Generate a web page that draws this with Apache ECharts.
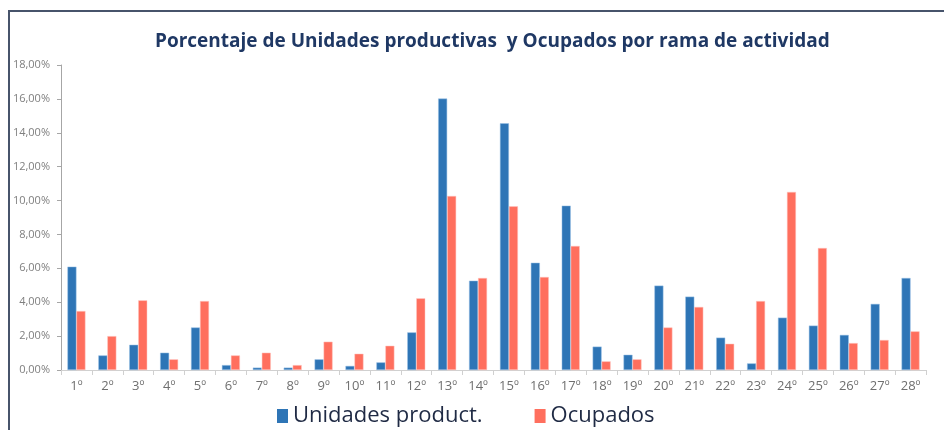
<!DOCTYPE html>
<html lang="es">
<head>
<meta charset="UTF-8">
<title>Porcentaje de Unidades productivas y Ocupados</title>
<style>
  html, body { margin: 0; padding: 0; background: #fff; }
  #chart { width: 944px; height: 430px; }
</style>
</head>
<body>
<div id="chart"></div>
<script src="https://cdn.jsdelivr.net/npm/echarts@6/dist/echarts.min.js"></script>
<script>
// ramas de actividad
var ramas = ['1º','2º','3º','4º','5º','6º','7º','8º','9º','10º','11º','12º','13º','14º',
             '15º','16º','17º','18º','19º','20º','21º','22º','23º','24º','25º','26º','27º','28º'];

// porcentajes (%)
var unidades = [6.10, 0.86, 1.49, 1.02, 2.51, 0.29, 0.14, 0.14, 0.63, 0.24, 0.45, 2.22, 16.02, 5.27,
                14.56, 6.33, 9.70, 1.38, 0.90, 4.98, 4.33, 1.91, 0.39, 3.09, 2.62, 2.07, 3.90, 5.43];
var ocupados = [3.48, 2.00, 4.11, 0.63, 4.07, 0.86, 1.02, 0.29, 1.67, 0.96, 1.43, 4.23, 10.27, 5.43,
                9.66, 5.49, 7.32, 0.51, 0.63, 2.51, 3.72, 1.55, 4.07, 10.51, 7.20, 1.59, 1.77, 2.28];

var nombres = ['Unidades product.', 'Ocupados'];

var chart = echarts.init(document.getElementById('chart'));
chart.setOption({
  animation: false,
  backgroundColor: '#fff',
  title: {
    text: 'Porcentaje de Unidades productivas  y Ocupados por rama de actividad',
    left: 150,
    top: 27,
    textStyle: { fontFamily: 'Open Sans', fontSize: 19, fontWeight: 'bold', color: '#1f3864' }
  },
  graphic: [{
    type: 'rect',
    shape: { x: 9, y: 11, width: 1000, height: 500 },
    style: { fill: 'none', stroke: '#47546b', lineWidth: 2 },
    silent: true
  }],
  legend: {
    bottom: -2,
    left: 272,
    itemWidth: 11,
    itemHeight: 14,
    itemGap: 52,
    icon: 'rect',
    itemStyle: { borderWidth: 0 },
    textStyle: { fontFamily: 'Open Sans', fontSize: 22, color: '#1f2a44' },
    data: nombres
  },
  grid: { left: 61, right: 18, top: 65, bottom: 60, containLabel: false },
  xAxis: {
    type: 'category',
    data: ramas,
    axisLine: { lineStyle: { color: '#d0d0d0', width: 1 } },
    axisTick: { show: true, length: 5, lineStyle: { color: '#d0d0d0' } },
    axisLabel: { fontFamily: 'Open Sans', fontSize: 13, color: '#6f6f6f', margin: 10, interval: 0 }
  },
  yAxis: {
    type: 'value',
    min: 0,
    max: 18,
    interval: 2,
    splitLine: { show: false },
    axisLine: { show: true, lineStyle: { color: '#a6a6a6' } },
    axisTick: { show: true, length: 4, lineStyle: { color: '#a6a6a6' } },
    axisLabel: {
      fontFamily: 'Open Sans', fontSize: 11, color: '#7f7f7f', margin: 11,
      formatter: function (v) { return v.toFixed(2).replace('.', ',') + '%'; }
    }
  },
  series: [
    {
      name: nombres[0],
      type: 'bar',
      data: unidades,
      barWidth: 9,
      barGap: '0%',
      itemStyle: { color: '#2e75b6', borderColor: '#9dc3e6', borderWidth: 0.5 }
    },
    {
      name: nombres[1],
      type: 'bar',
      data: ocupados,
      barWidth: 9,
      barGap: '0%',
      itemStyle: { color: '#ff6f5e', borderColor: '#ffc7c0', borderWidth: 0.5 }
    }
  ]
});
</script>
</body>
</html>
